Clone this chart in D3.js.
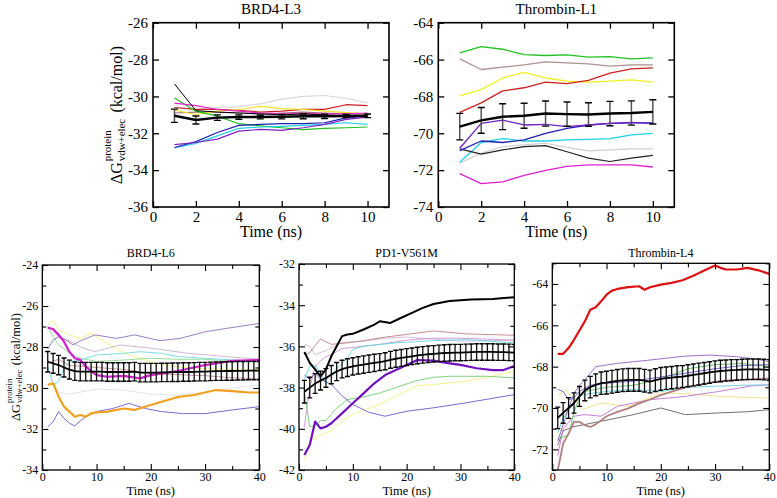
<!DOCTYPE html>
<html>
<head>
<meta charset="utf-8">
<script src="https://cdn.jsdelivr.net/npm/d3@7"></script>
<style>
  body { margin: 0; background: #fff; }
  svg { display: block; }
</style>
</head>
<body>
<div id="chart"></div>
<script>
// ---------- data ----------
const topTime = [1, 2, 3, 4, 5, 6, 7, 8, 9, 10];
const bottomTime = [1, 2, 3, 4, 5, 6, 7, 8, 9, 10, 11, 12, 13, 14, 15, 16, 17, 18, 19, 20,
                    21, 22, 23, 24, 25, 26, 27, 28, 29, 30, 31, 32, 33, 34, 35, 36, 37, 38, 39, 40];

// BRD4-L3 (10 ns runs)
const l3Mean = [-31.05, -31.28, -31.15, -31.12, -31.12, -31.1, -31.08, -31.08, -31.06, -31.05];
const l3Err = [0.36, 0.22, 0.15, 0.12, 0.1, 0.12, 0.13, 0.12, 0.08, 0.1];
const l3Black = [-29.32, -30.77, -30.85, -30.9, -30.95, -31.0, -30.95, -31.0, -31.05, -31.05];
const l3Green = [-30.09, -30.8, -31.07, -31.48, -31.6, -31.7, -31.8, -31.73, -31.7, -31.66];
const l3Magenta = [-30.36, -30.5, -30.71, -30.8, -30.9, -30.95, -30.93, -30.95, -30.95, -30.9];
const l3Yellow = [-30.75, -30.98, -30.8, -30.71, -30.54, -30.66, -30.71, -30.8, -30.88, -30.95];
const l3Red = [-30.6, -30.7, -30.7, -30.75, -30.85, -30.8, -30.7, -30.7, -30.45, -30.5];
const l3Gray = [-30.6, -30.7, -30.6, -30.55, -30.4, -30.15, -30.0, -29.95, -30.1, -30.35];
const l3Brown = [-30.9, -30.85, -30.85, -30.9, -30.95, -30.9, -30.85, -30.9, -30.95, -30.95];
const l3Blue = [-32.77, -32.45, -31.96, -31.57, -31.52, -31.48, -31.48, -31.43, -31.16, -31.07];
const l3Cyan = [-32.8, -32.55, -32.14, -31.73, -31.66, -31.62, -31.57, -31.52, -31.43, -31.52];
const l3Purple = [-32.62, -32.5, -32.32, -31.88, -31.79, -31.84, -31.7, -31.52, -31.25, -31.12];

// Thrombin-L1 (10 ns runs)
const l1Mean = [-69.64, -69.3, -69.1, -69.05, -68.93, -68.96, -68.98, -68.93, -68.9, -68.84];
const l1Err = [0.72, 0.7, 0.7, 0.68, 0.68, 0.66, 0.64, 0.66, 0.66, 0.66];
const l1Green = [-65.64, -65.3, -65.44, -65.73, -65.78, -65.75, -65.87, -65.84, -65.96, -65.91];
const l1Brown = [-65.96, -66.54, -66.41, -66.29, -66.13, -66.18, -66.23, -66.36, -66.29, -66.29];
const l1Yellow = [-67.97, -67.63, -67.0, -66.7, -67.0, -67.17, -67.22, -67.17, -67.1, -67.22];
const l1Red = [-68.87, -68.35, -67.7, -67.53, -67.22, -67.31, -67.13, -66.74, -66.5, -66.45];
const l1Purple = [-70.81, -69.46, -69.29, -69.55, -69.52, -69.64, -69.55, -69.46, -69.41, -69.46];
const l1Blue = [-70.94, -70.42, -70.5, -70.36, -70.0, -69.73, -69.55, -69.46, -69.43, -69.43];
const l1Cyan = [-71.57, -70.5, -70.29, -70.42, -70.42, -70.36, -70.33, -70.29, -70.09, -70.0];
const l1Black = [-70.85, -71.13, -70.9, -70.72, -70.67, -71.0, -71.35, -71.53, -71.35, -71.2];
const l1Gray = [-71.62, -71.08, -70.72, -70.63, -70.54, -70.76, -70.95, -70.9, -70.85, -70.85];
const l1Magenta = [-72.19, -72.73, -72.64, -72.28, -72.01, -71.8, -71.71, -71.71, -71.71, -71.83];

// BRD4-L6 (40 ns runs), [time, value]
const l6Mean = [-28.72, -28.8, -28.88, -29.0, -29.1, -29.18, -29.2, -29.2, -29.2, -29.2,
                -29.2, -29.22, -29.22, -29.22, -29.22, -29.22, -29.2, -29.25, -29.25, -29.25,
                -29.25, -29.24, -29.24, -29.23, -29.23, -29.22, -29.22, -29.21, -29.2, -29.2,
                -29.19, -29.18, -29.18, -29.17, -29.17, -29.16, -29.16, -29.15, -29.15, -29.15];
const l6Err = [0.5, 0.48, 0.47, 0.46, 0.46, 0.45, 0.45, 0.45, 0.45, 0.45,
               0.45, 0.45, 0.45, 0.45, 0.45, 0.45, 0.45, 0.45, 0.45, 0.45,
               0.45, 0.45, 0.45, 0.45, 0.45, 0.45, 0.45, 0.45, 0.45, 0.45,
               0.45, 0.45, 0.45, 0.45, 0.45, 0.45, 0.45, 0.45, 0.45, 0.45];
const l6Magenta = [[1, -27.06], [2, -27.12], [3, -27.4], [4, -27.74], [5, -28.23], [6, -28.55], [7, -28.63], [8, -28.96], [10, -29.37], [12, -29.45], [15, -29.41], [18, -29.53], [20, -29.37], [25, -29.17], [30, -28.88], [35, -28.67], [40, -28.63]];
const l6Orange = [[1, -29.85], [2, -29.77], [3, -30.42], [4, -30.91], [5, -31.15], [6, -31.4], [7, -31.32], [8, -31.4], [9, -31.24], [10, -31.19], [12, -31.15], [15, -31.0], [17, -31.07], [20, -30.83], [22, -30.67], [25, -30.44], [28, -30.34], [32, -30.1], [35, -30.15], [38, -30.22], [40, -30.22]];
const l6Slate = [[1, -31.9], [2, -31.64], [3, -31.15], [4, -31.48], [5, -31.72], [6, -31.85], [7, -31.6], [8, -31.4], [10, -31.15], [13, -31.0], [16, -30.75], [19, -31.0], [22, -31.15], [26, -31.25], [30, -31.25], [35, -31.07], [40, -30.91]];
const l6Purple = [[1, -28.1], [2, -27.66], [3, -27.5], [4, -27.6], [5.7, -27.9], [7, -27.7], [9.7, -27.41], [13.7, -27.58], [17, -27.41], [21.7, -27.69], [25.4, -27.58], [30.2, -27.25], [34, -27.09], [40, -26.85]];
const l6Thistle = [[1, -27.0], [2, -27.2], [3, -27.5], [5, -27.7], [7, -28.0], [9.7, -28.23], [14.3, -27.9], [20.4, -28.07], [26.6, -28.3], [34, -28.47], [40, -28.6]];
const l6Yellow = [[1, -26.9], [2, -26.7], [3, -27.17], [5, -27.41], [7, -27.58], [9, -27.33], [11, -27.66], [14, -28.15], [17, -28.47], [20, -28.72], [23, -28.9], [26, -29.0], [30, -29.05], [35, -29.1], [40, -29.1]];
const l6Green = [[1, -27.0], [2, -27.5], [3, -27.9], [4, -28.07], [5, -28.3], [7, -28.55], [10, -28.7], [14, -28.65], [20, -28.55], [25, -28.6], [30, -28.6], [35, -28.7], [40, -28.75]];
const l6Cyan = [[1, -28.96], [2, -29.85], [3, -29.69], [4, -29.04], [5, -28.72], [7, -28.63], [10, -28.39], [15, -28.31], [18, -28.23], [22, -28.31], [25, -28.47], [30, -28.55], [35, -28.63], [40, -28.72]];
const l6Brown = [[1, -28.8], [3, -28.6], [5, -28.9], [10, -29.0], [15, -29.1], [20, -29.3], [25, -29.35], [30, -29.4], [35, -29.5], [40, -29.55]];
const l6Gray = [[1, -29.0], [2, -29.8], [3, -30.2], [5, -30.3], [7, -30.2], [10, -30.05], [15, -30.1], [20, -30.3], [25, -30.35], [30, -30.2], [35, -30.0], [40, -29.85]];

// PD1-V561M (40 ns runs)
const pdMean = [-38.2, -38.0, -37.8, -37.66, -37.53, -37.37, -37.22, -37.1, -37.03, -36.97,
                -36.92, -36.88, -36.84, -36.8, -36.76, -36.72, -36.65, -36.6, -36.56, -36.52,
                -36.48, -36.44, -36.41, -36.38, -36.36, -36.34, -36.32, -36.31, -36.3, -36.3,
                -36.29, -36.28, -36.27, -36.27, -36.27, -36.27, -36.28, -36.28, -36.29, -36.3];
const pdErr = [0.55, 0.5, 0.48, 0.46, 0.45, 0.44, 0.44, 0.43, 0.43, 0.42,
               0.42, 0.42, 0.42, 0.42, 0.41, 0.41, 0.41, 0.41, 0.41, 0.41,
               0.4, 0.4, 0.4, 0.4, 0.4, 0.4, 0.4, 0.4, 0.4, 0.4,
               0.4, 0.4, 0.4, 0.4, 0.4, 0.4, 0.4, 0.4, 0.4, 0.4];
const pdBlack = [[1, -36.27], [2, -36.8], [3, -37.12], [4, -37.45], [5, -37.12], [6, -36.48], [7, -35.99], [8, -35.5], [9, -35.42], [10, -35.39], [12, -35.18], [14, -34.94], [15, -34.78], [17, -34.86], [19, -34.61], [21, -34.37], [23, -34.13], [25, -33.94], [28, -33.8], [32, -33.72], [36, -33.7], [40, -33.61]];
const pdPurple = [[1, -41.27], [2, -40.79], [3, -39.65], [4, -39.98], [5, -39.9], [6, -39.73], [7, -39.49], [8, -39.25], [9, -39.0], [10, -38.76], [12, -38.28], [14, -37.79], [16, -37.39], [18, -37.15], [20, -36.9], [22, -36.66], [25, -36.69], [28, -36.82], [30, -36.9], [33, -37.06], [36, -37.15], [38, -37.15], [40, -36.95]];
const pdBrown = [[1, -36.4], [2, -36.31], [3, -35.95], [4, -35.65], [6, -35.9], [9, -35.83], [12, -35.72], [16, -35.55], [20, -35.42], [25, -35.25], [31, -35.39], [40, -35.46]];
const pdPlum = [[1, -39.9], [2, -38.0], [3, -37.0], [4, -36.7], [5, -36.5], [6, -36.4], [8, -36.1], [10, -36.05], [15, -35.9], [20, -35.7], [25, -35.6], [30, -35.6], [35, -35.65], [40, -35.7]];
const pdThistle = [[1, -35.9], [2, -36.0], [3, -36.4], [5, -36.2], [8, -35.8], [12, -35.75], [16, -35.6], [20, -35.55], [25, -35.65], [30, -35.75], [40, -35.7]];
const pdCyan = [[1, -37.6], [2, -36.96], [3, -36.9], [4.8, -37.7], [7.2, -37.04], [9, -36.56], [10, -36.15], [12, -35.99], [18, -35.83], [25, -35.72], [31, -35.67], [40, -35.83]];
const pdSlate = [[1, -37.4], [2, -37.6], [3, -37.3], [4, -37.6], [6, -37.85], [8, -38.4], [10, -38.82], [13, -39.2], [16, -39.39], [20, -39.15], [25, -38.98], [31, -38.74], [40, -38.34]];
const pdGreen = [[1, -38.2], [2, -39.9], [3, -39.85], [4, -39.6], [5, -39.6], [6, -39.3], [7, -39.0], [9, -38.58], [12, -38.45], [15, -38.26], [18, -38.0], [21.5, -37.69], [25, -37.5], [28, -37.45], [35, -37.45], [40, -37.53]];
const pdYellow = [[1, -41.5], [2, -40.6], [4, -40.3], [6, -40.1], [8, -39.6], [10, -39.3], [15, -38.82], [19, -38.3], [22, -37.9], [25, -37.85], [31, -37.69], [35, -37.5], [40, -37.2]];

// Thrombin-L4 (40 ns runs)
const l4Mean = [-70.48, -70.24, -70.0, -69.76, -69.44, -69.15, -68.99, -68.88, -68.8, -68.77,
                -68.73, -68.69, -68.66, -68.64, -68.64, -68.64, -68.68, -68.72, -68.65, -68.59,
                -68.56, -68.53, -68.5, -68.48, -68.44, -68.4, -68.36, -68.32, -68.28, -68.24,
                -68.21, -68.19, -68.17, -68.16, -68.14, -68.13, -68.13, -68.13, -68.14, -68.16];
const l4Err = [0.52, 0.5, 0.5, 0.49, 0.48, 0.5, 0.52, 0.53, 0.54, 0.55,
               0.55, 0.55, 0.55, 0.55, 0.55, 0.55, 0.55, 0.55, 0.55, 0.55,
               0.54, 0.54, 0.54, 0.53, 0.53, 0.53, 0.53, 0.52, 0.52, 0.52,
               0.52, 0.51, 0.51, 0.5, 0.5, 0.5, 0.5, 0.5, 0.5, 0.5];
const l4Red = [[1, -67.38], [2, -67.38], [3, -67.1], [4, -66.7], [5, -66.25], [6, -65.81], [7, -65.25], [8, -65.13], [9, -64.84], [10, -64.52], [11, -64.32], [12, -64.24], [14, -64.15], [16, -64.11], [17, -64.28], [18, -64.16], [20, -64.03], [22, -63.95], [24, -63.82], [26, -63.6], [28, -63.35], [30, -63.11], [31, -63.22], [32, -63.3], [34, -63.3], [36, -63.22], [38, -63.34], [40, -63.51]];
const l4Brown = [[1, -73.02], [2, -71.72], [3, -71.24], [4, -70.67], [5, -70.67], [6, -70.83], [7, -70.92], [8, -70.79], [9, -70.6], [10, -70.4], [12, -70.19], [14, -70.02], [16, -69.78], [18, -69.59], [20, -69.38], [22, -69.21], [25, -68.97], [28, -68.84], [30, -68.73], [33, -68.65], [36, -68.62], [40, -68.57]];
const l4Purple = [[1, -71.6], [2, -70.8], [3, -70.0], [4, -69.3], [5, -68.9], [6, -68.64], [8, -68.0], [12, -67.84], [18, -67.68], [24.5, -67.49], [29, -67.44], [34, -67.52], [38, -67.65], [40, -67.76]];
const l4Green = [[1, -71.5], [2, -71.4], [3, -71.3], [4, -70.2], [5, -69.5], [6, -69.2], [8, -69.1], [10, -69.0], [15, -68.9], [20, -68.6], [25, -68.1], [30, -67.9], [35, -67.85], [40, -68.0]];
const l4Cyan = [[1, -71.2], [2, -70.5], [3, -70.1], [4, -69.8], [5, -69.4], [7, -69.3], [10, -69.2], [15, -69.1], [20, -69.2], [25, -69.0], [30, -68.95], [35, -68.9], [40, -68.88]];
const l4Yellow = [[1, -69.4], [2.4, -69.12], [4, -69.6], [5.5, -70.08], [9, -69.76], [14, -69.92], [20, -69.28], [24.5, -69.3], [30.7, -69.44], [40, -69.52]];
const l4Orchid = [[1, -72.3], [2, -71.0], [3, -70.7], [4, -70.4], [6, -70.32], [9, -70.4], [12, -69.92], [18, -69.6], [24.5, -69.44], [30.7, -69.2], [36.8, -68.93], [40, -68.88]];
const l4Gray = [[1, -71.8], [2, -71.1], [3, -71.0], [4, -70.9], [6, -70.8], [9, -70.64], [15, -70.32], [20, -70.0], [24.5, -70.32], [30.7, -70.24], [36, -70.18], [40, -70.08]];
const l4Slate = [[1, -69.1], [2, -69.2], [3, -69.6], [4, -69.5], [5, -69.2], [7, -68.9], [10, -68.8], [15, -68.7], [20, -68.5], [25, -68.3], [30, -68.1], [35, -67.95], [40, -67.9]];

// ---------- layout ----------
const W = 777, H = 498;
const FONT = '"Liberation Serif", "DejaVu Serif", "Times New Roman", serif';
const svg = d3.select("#chart").append("svg").attr("width", W).attr("height", H)
  .attr("font-family", FONT);

const pairs = (vals) => topTime.map((t, i) => [t, vals[i]]);

const panels = [
  {
    id: "p1", title: "BRD4-L3", box: [153, 389, 22.7, 207], xDomain: [0, 11], yDomain: [-36, -26],
    big: true, yLabelAt: [122, 115],
    series: [
      [pairs(l3Gray), "#d8d8d8", 1.2], [pairs(l3Brown), "#a0707a", 1.2], [pairs(l3Red), "#cc2222", 1.2],
      [pairs(l3Yellow), "#f0e020", 1.2], [pairs(l3Green), "#22c022", 1.2], [pairs(l3Magenta), "#e020d0", 1.2],
      [pairs(l3Black), "#000", 1], [pairs(l3Cyan), "#20d0e8", 1.2], [pairs(l3Blue), "#2020b0", 1.2],
      [pairs(l3Purple), "#8020c0", 1.2]
    ],
    meanVals: l3Mean, errVals: l3Err, time: topTime
  },
  {
    id: "p2", title: "Thrombin-L1", box: [438.3, 674.3, 22.7, 207], xDomain: [0, 11], yDomain: [-74, -64],
    big: true,
    series: [
      [pairs(l1Gray), "#d0d0d0", 1.2], [pairs(l1Green), "#22c022", 1.3], [pairs(l1Brown), "#b09090", 1.3],
      [pairs(l1Yellow), "#f0f020", 1.3], [pairs(l1Red), "#cc2222", 1.3], [pairs(l1Cyan), "#20d0e8", 1.3],
      [pairs(l1Black), "#222", 1.2], [pairs(l1Blue), "#2020b0", 1.3], [pairs(l1Purple), "#7020c0", 1.3],
      [pairs(l1Magenta), "#e020d0", 1.3]
    ],
    meanVals: l1Mean, errVals: l1Err, time: topTime
  },
  {
    id: "p3", title: "BRD4-L6", box: [42.3, 259.3, 265, 470], xDomain: [0, 40], yDomain: [-34, -24],
    big: false, yLabelAt: [20, 367],
    series: [
      [l6Gray, "#e0e0e0", 0.9], [l6Yellow, "#f4f080", 0.9], [l6Green, "#90d890", 0.9], [l6Thistle, "#c8b0d0", 0.9],
      [l6Purple, "#9070b8", 0.9], [l6Cyan, "#70d8e0", 0.9], [l6Brown, "#c09090", 0.9], [l6Slate, "#6a5acd", 0.9],
      [l6Orange, "#f0a020", 2.2], [l6Magenta, "#d020d0", 2.2]
    ],
    meanVals: l6Mean, errVals: l6Err, time: bottomTime
  },
  {
    id: "p4", title: "PD1-V561M", box: [299, 514.3, 264, 470], xDomain: [0, 40], yDomain: [-42, -32],
    big: false,
    series: [
      [pdYellow, "#f0f080", 0.9], [pdThistle, "#d0b8d8", 0.9], [pdPlum, "#d090d0", 0.9], [pdBrown, "#c08080", 0.9],
      [pdCyan, "#60d8e0", 0.9], [pdGreen, "#70cc70", 0.9], [pdSlate, "#6a5acd", 0.9],
      [pdPurple, "#7010c0", 2.2], [pdBlack, "#000", 2.0]
    ],
    meanVals: pdMean, errVals: pdErr, time: bottomTime
  },
  {
    id: "p5", title: "Thrombin-L4", box: [552.3, 769.3, 263.3, 470], xDomain: [0, 40], yDomain: [-73, -63],
    big: false,
    series: [
      [l4Yellow, "#f0e080", 0.9], [l4Gray, "#606060", 0.9], [l4Orchid, "#c070d0", 0.9], [l4Cyan, "#60d0d8", 0.9],
      [l4Green, "#60c060", 0.9], [l4Purple, "#9060c0", 0.9], [l4Slate, "#6a5acd", 0.9],
      [l4Brown, "#b08080", 1.8], [l4Red, "#dd1111", 2.2]
    ],
    meanVals: l4Mean, errVals: l4Err, time: bottomTime
  }
];

function yLabel(cx, cy, fs) {
  const g = svg.append("g").attr("transform", `translate(${cx},${cy}) rotate(-90)`);
  const inner = g.append("g");
  const t1 = inner.append("text").attr("font-size", fs).text("ΔG");
  const w1 = t1.node().getComputedTextLength();
  const sup = inner.append("text").attr("x", w1 + 1).attr("y", -fs * 0.68).attr("font-size", fs * 0.68).text("protein");
  const sub = inner.append("text").attr("x", w1 + 1).attr("y", fs * 0.16).attr("font-size", fs * 0.68).text("vdw+elec");
  const w2 = Math.max(sup.node().getComputedTextLength(), sub.node().getComputedTextLength());
  const t3 = inner.append("text").attr("x", w1 + w2 + fs * 0.45).attr("font-size", fs).text("(kcal/mol)");
  const total = w1 + w2 + fs * 0.45 + t3.node().getComputedTextLength();
  inner.attr("transform", `translate(${-total / 2},0)`);
}

function drawPanel(p) {
  const [x0, x1, y0, y1] = p.box;
  const x = d3.scaleLinear().domain(p.xDomain).range([x0, x1]);
  const y = d3.scaleLinear().domain(p.yDomain).range([y1, y0]);
  const g = svg.append("g");
  const tickFs = p.big ? 15 : 12;
  const major = 6, minor = 4;

  g.append("clipPath").attr("id", "clip-" + p.id)
    .append("rect").attr("x", x0).attr("y", y0).attr("width", x1 - x0).attr("height", y1 - y0);
  const plot = g.append("g").attr("clip-path", `url(#clip-${p.id})`);

  const line = d3.line().x(d => x(d[0])).y(d => y(d[1]));
  p.series.forEach(([data, color, w]) => {
    plot.append("path").datum(data).attr("d", line)
      .attr("fill", "none").attr("stroke", color).attr("stroke-width", w)
      .attr("stroke-linejoin", "round");
  });

  // mean with error bars
  const meanData = p.time.map((t, i) => [t, p.meanVals[i], p.errVals[i]]);
  const cap = p.big ? 3.5 : 2.5;
  const eb = plot.append("g");
  eb.selectAll("line.bar").data(meanData).join("line").attr("class", "bar")
    .attr("x1", d => x(d[0])).attr("x2", d => x(d[0]))
    .attr("y1", d => y(d[1] + d[2])).attr("y2", d => y(d[1] - d[2]))
    .attr("stroke", p.big ? "#555" : "#111").attr("stroke-width", p.big ? 1.5 : 1.3);
  [1, -1].forEach(s => {
    eb.selectAll(null).data(meanData).join("line")
      .attr("x1", d => x(d[0]) - cap).attr("x2", d => x(d[0]) + cap)
      .attr("y1", d => y(d[1] + s * d[2])).attr("y2", d => y(d[1] + s * d[2]))
      .attr("stroke", "#000").attr("stroke-width", 1.4);
  });
  plot.append("path").datum(meanData).attr("d", line)
    .attr("fill", "none").attr("stroke", "#000").attr("stroke-width", p.big ? 2.4 : 1.8);

  // ticks
  const [ya, yb] = p.yDomain;
  const yLabels = p.id === "p5" ? d3.range(-72, -63, 2) : d3.range(ya, yb + 0.01, 2);
  const yMinorTicks = p.big ? [] : d3.range(ya, yb + 0.01, 1).filter(v => !yLabels.includes(v));
  const xMajor = p.big ? d3.range(0, 11, 2) : d3.range(0, 41, 10);
  const xMinor = p.big ? [] : d3.range(5, 40, 10);

  const yAxis = g.append("g").attr("transform", `translate(${x0},0)`)
    .call(d3.axisLeft(y).tickValues(yLabels).tickSizeInner(-major).tickSizeOuter(0)
      .tickPadding(p.big ? 5 : 4).tickFormat(d => String(d)));
  g.append("g").attr("transform", `translate(${x0},0)`)
    .call(d3.axisLeft(y).tickValues(yMinorTicks).tickSizeInner(-minor).tickSizeOuter(0).tickFormat(""));
  g.append("g").attr("transform", `translate(${x1},0)`)
    .call(d3.axisRight(y).tickValues(yLabels).tickSizeInner(-major).tickSizeOuter(0).tickFormat(""));
  g.append("g").attr("transform", `translate(${x1},0)`)
    .call(d3.axisRight(y).tickValues(yMinorTicks).tickSizeInner(-minor).tickSizeOuter(0).tickFormat(""));

  const xAxis = g.append("g").attr("transform", `translate(0,${y1})`)
    .call(d3.axisBottom(x).tickValues(xMajor).tickSizeInner(-major).tickSizeOuter(0)
      .tickPadding(p.big ? 4 : 2).tickFormat(d => String(d)));
  g.append("g").attr("transform", `translate(0,${y1})`)
    .call(d3.axisBottom(x).tickValues(xMinor).tickSizeInner(-minor).tickSizeOuter(0).tickFormat(""));
  g.append("g").attr("transform", `translate(0,${y0})`)
    .call(d3.axisTop(x).tickValues(xMajor).tickSizeInner(-major).tickSizeOuter(0).tickFormat(""));
  g.append("g").attr("transform", `translate(0,${y0})`)
    .call(d3.axisTop(x).tickValues(xMinor).tickSizeInner(-minor).tickSizeOuter(0).tickFormat(""));

  // d3 axes set their own sans-serif family and size; restore the serif look
  g.selectAll("g[font-family]").attr("font-family", FONT).attr("font-size", tickFs);
  [yAxis, xAxis].forEach(a => a.selectAll("text").attr("fill", "#000"));

  g.selectAll(".domain").remove();
  g.selectAll(".tick line").attr("stroke", "#000").attr("stroke-width", p.big ? 1.3 : 1.1);

  g.append("rect").attr("x", x0).attr("y", y0).attr("width", x1 - x0).attr("height", y1 - y0)
    .attr("fill", "none").attr("stroke", "#000").attr("stroke-width", p.big ? 1.6 : 1.3);

  // titles
  const cx = (x0 + x1) / 2;
  g.append("text").attr("x", cx).attr("y", p.big ? 14 : 257).attr("text-anchor", "middle")
    .attr("font-size", p.big ? 15 : 12).text(p.title);
  g.append("text").attr("x", cx).attr("y", p.big ? 237 : 495).attr("text-anchor", "middle")
    .attr("font-size", p.big ? 16 : 12.5).text("Time (ns)");

  if (p.yLabelAt) yLabel(p.yLabelAt[0], p.yLabelAt[1], p.big ? 16 : 12.5);
}

panels.forEach(drawPanel);
</script>
</body>
</html>
